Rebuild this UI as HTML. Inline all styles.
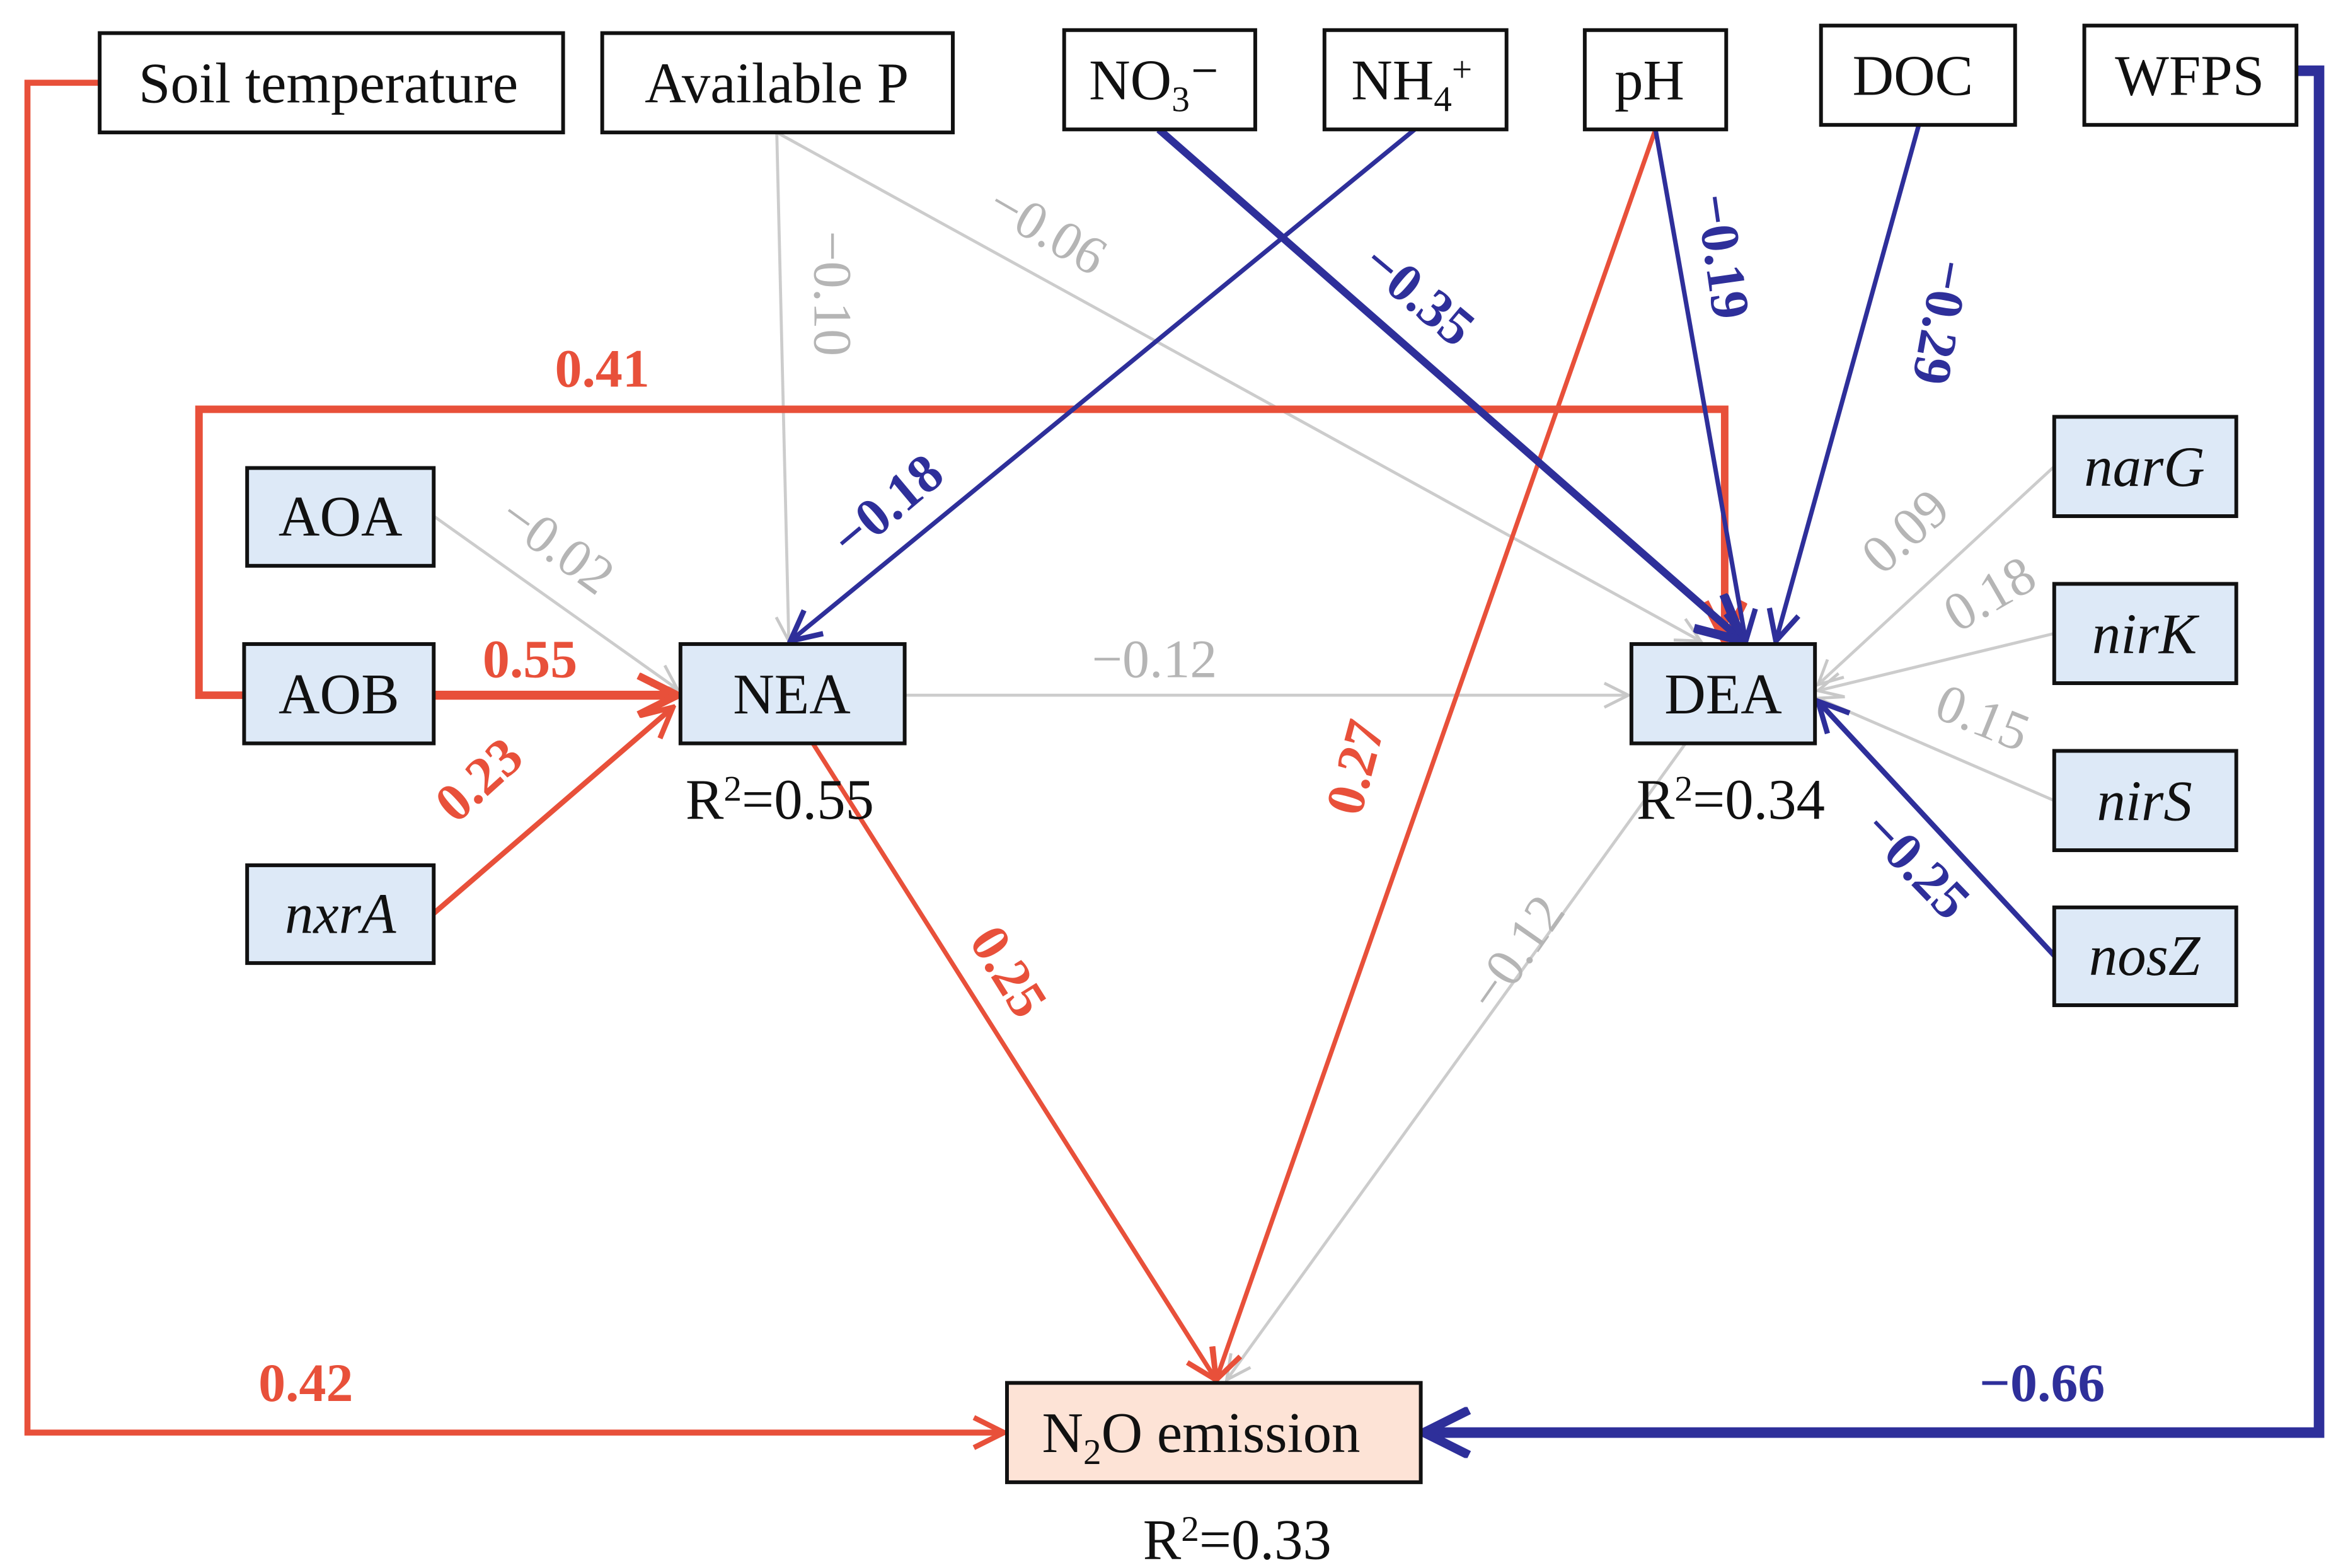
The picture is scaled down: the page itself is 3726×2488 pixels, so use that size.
<!DOCTYPE html>
<html><head><meta charset="utf-8"><style>
html,body{margin:0;padding:0;background:#fff;}
svg{display:block;}
text{font-family:"Liberation Serif","Times New Roman",serif;}
</style></head><body>
<svg width="3726" height="2488" viewBox="0 0 1560 1042" xmlns="http://www.w3.org/2000/svg">
<defs>
<marker id="ar" markerUnits="userSpaceOnUse" viewBox="0 0 24 24" refX="22" refY="12" markerWidth="24" markerHeight="24" orient="auto"><path d="M2,2 L22,12 L2,22" fill="none" stroke="#e8503a" stroke-width="3.5"/></marker>
<marker id="arB" markerUnits="userSpaceOnUse" viewBox="0 0 30 30" refX="28" refY="15" markerWidth="30" markerHeight="30" orient="auto"><path d="M2,2 L28,15 L2,28" fill="none" stroke="#e8503a" stroke-width="5"/></marker>
<marker id="ab" markerUnits="userSpaceOnUse" viewBox="0 0 24 24" refX="22" refY="12" markerWidth="24" markerHeight="24" orient="auto"><path d="M2,2 L22,12 L2,22" fill="none" stroke="#2e2f9a" stroke-width="3.5"/></marker>
<marker id="abB" markerUnits="userSpaceOnUse" viewBox="0 0 34 34" refX="32" refY="17" markerWidth="34" markerHeight="34" orient="auto"><path d="M2,2 L32,17 L2,32" fill="none" stroke="#2e2f9a" stroke-width="6"/></marker>
<marker id="ag" markerUnits="userSpaceOnUse" viewBox="0 0 20 20" refX="18" refY="10" markerWidth="20" markerHeight="20" orient="auto"><path d="M2,2 L18,10 L2,18" fill="none" stroke="#c8c8c8" stroke-width="2"/></marker>
</defs>

<g stroke="#cccccc" stroke-width="2" fill="none">
<line x1="288" y1="343" x2="450" y2="458" marker-end="url(#ag)"/>
<line x1="516" y1="88" x2="524" y2="426" marker-end="url(#ag)"/>
<line x1="516" y1="88" x2="1130" y2="426" marker-end="url(#ag)"/>
<line x1="601" y1="462" x2="1082" y2="462" marker-end="url(#ag)"/>
<line x1="1120" y1="494" x2="815" y2="917" marker-end="url(#ag)"/>
<line x1="1365" y1="310" x2="1208" y2="455" marker-end="url(#ag)"/>
<line x1="1365" y1="421" x2="1208" y2="459" marker-end="url(#ag)"/>
<line x1="1365" y1="532" x2="1208" y2="464" marker-end="url(#ag)"/>
</g>

<g stroke="#e8503a" fill="none">
<polyline points="66,55 18,55 18,952 667,952" stroke-width="4" marker-end="url(#ar)"/>
<polyline points="162,462 132,462 132,272 1146,272 1146,426" stroke-width="5" marker-end="url(#arB)"/>
<line x1="288" y1="462" x2="450" y2="462" stroke-width="6" marker-end="url(#arB)"/>
<line x1="288" y1="607" x2="447" y2="470" stroke-width="3.5" marker-end="url(#ar)"/>
<line x1="1100" y1="86" x2="808" y2="917" stroke-width="3" marker-end="url(#ar)"/>
<line x1="540" y1="494" x2="808" y2="917" stroke-width="3" marker-end="url(#ar)"/>
</g>

<g stroke="#2e2f9a" fill="none">
<polyline points="1526,47 1541,47 1541,952 946,952" stroke-width="7" marker-end="url(#abB)"/>
<line x1="940" y1="86" x2="525" y2="426" stroke-width="3" marker-end="url(#ab)"/>
<line x1="770" y1="86" x2="1158" y2="426" stroke-width="5" marker-end="url(#abB)"/>
<line x1="1100" y1="86" x2="1160" y2="426" stroke-width="3" marker-end="url(#ab)"/>
<line x1="1275" y1="83" x2="1180" y2="426" stroke-width="3" marker-end="url(#ab)"/>
<line x1="1365" y1="635" x2="1208" y2="466" stroke-width="3.5" marker-end="url(#ab)"/>
</g>

<g stroke="#111" stroke-width="2.5">
<rect x="66" y="22" width="308" height="66" fill="#fff"/>
<rect x="400" y="22" width="233" height="66" fill="#fff"/>
<rect x="707" y="20" width="127" height="66" fill="#fff"/>
<rect x="880" y="20" width="121" height="66" fill="#fff"/>
<rect x="1053" y="20" width="94" height="66" fill="#fff"/>
<rect x="1210" y="17" width="129" height="66" fill="#fff"/>
<rect x="1385" y="17" width="141" height="66" fill="#fff"/>
<rect x="164" y="311" width="124" height="65" fill="#dde9f7"/>
<rect x="162" y="428" width="126" height="66" fill="#dde9f7"/>
<rect x="164" y="575" width="124" height="65" fill="#dde9f7"/>
<rect x="452" y="428" width="149" height="66" fill="#dde9f7"/>
<rect x="1084" y="428" width="122" height="66" fill="#dde9f7"/>
<rect x="1365" y="277" width="121" height="66" fill="#dde9f7"/>
<rect x="1365" y="388" width="121" height="66" fill="#dde9f7"/>
<rect x="1365" y="499" width="121" height="66" fill="#dde9f7"/>
<rect x="1365" y="603" width="121" height="65" fill="#dde9f7"/>
<rect x="669" y="919" width="275" height="66" fill="#fde3d6"/>
</g>

<g font-size="38" fill="#111" text-anchor="middle">
<text x="218" y="68">Soil temperature</text>
<text x="516" y="68">Available  P</text>
<text x="767" y="66">NO<tspan font-size="24" dy="8">3</tspan><tspan dy="-8">⁻</tspan></text>
<text x="938" y="66">NH<tspan font-size="24" dy="8">4</tspan><tspan font-size="24" dy="-20">+</tspan></text>
<text x="1096" y="66">pH</text>
<text x="1271" y="63">DOC</text>
<text x="1455" y="63">WFPS</text>
<text x="226" y="356">AOA</text>
<text x="225" y="474">AOB</text>
<text x="226" y="620" font-style="italic">nxrA</text>
<text x="526" y="474">NEA</text>
<text x="1145" y="474">DEA</text>
<text x="1425" y="323" font-style="italic">narG</text>
<text x="1425" y="434" font-style="italic">nirK</text>
<text x="1425" y="545" font-style="italic">nirS</text>
<text x="1425" y="648" font-style="italic">nosZ</text>
<text x="798" y="965">N<tspan font-size="24" dy="8">2</tspan><tspan dy="-8">O emission</tspan></text>
<text x="518" y="544">R<tspan font-size="24" dy="-12">2</tspan><tspan dy="12">=0.55</tspan></text>
<text x="1150" y="544">R<tspan font-size="24" dy="-12">2</tspan><tspan dy="12">=0.34</tspan></text>
<text x="822" y="1036">R<tspan font-size="24" dy="-12">2</tspan><tspan dy="12">=0.33</tspan></text>
</g>

<g font-size="36" text-anchor="middle">
<g fill="#e8503a" font-weight="bold">
<text x="203" y="931">0.42</text>
<text x="400" y="257">0.41</text>
<text x="352" y="450">0.55</text>
<text transform="translate(326,527) rotate(-42)">0.23</text>
<text transform="translate(912,513) rotate(-75)">0.27</text>
<text transform="translate(660,652) rotate(58)">0.25</text>
</g>
<g fill="#2e2f9a" font-weight="bold">
<text x="1357" y="931">−0.66</text>
<text transform="translate(597,345) rotate(-40)">−0.18</text>
<text transform="translate(935,205) rotate(40)">−0.35</text>
<text transform="translate(1133,172) rotate(82)">−0.19</text>
<text transform="translate(1278,212) rotate(100)">−0.29</text>
<text transform="translate(1265,583) rotate(46)">−0.25</text>
</g>
<g fill="#b5b5b5">
<text transform="translate(363,372) rotate(36)">−0.02</text>
<text transform="translate(541,195) rotate(90)">−0.10</text>
<text transform="translate(690,163) rotate(30)">−0.06</text>
<text x="767" y="450">−0.12</text>
<text transform="translate(1017,640) rotate(-55)">−0.12</text>
<text transform="translate(1274,362) rotate(-42)">0.09</text>
<text transform="translate(1328,405) rotate(-30)">0.18</text>
<text transform="translate(1313,488) rotate(22)">0.15</text>
</g>
</g>
</svg>
</body></html>
